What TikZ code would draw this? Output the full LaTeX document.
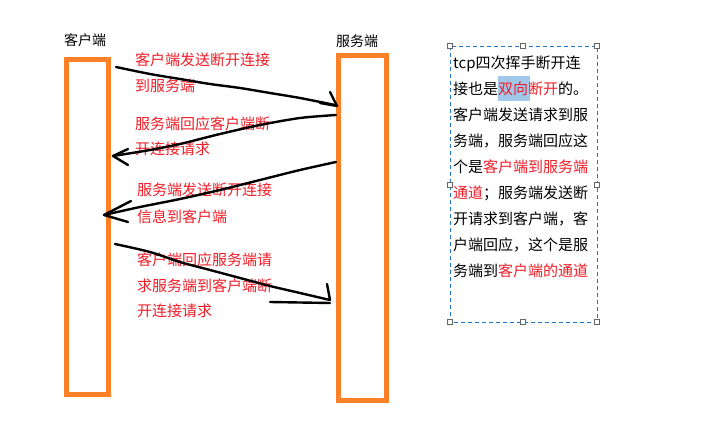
\documentclass[tikz,border=0pt]{standalone}
\usepackage{fontspec}
\setmainfont{Noto Sans CJK SC}
\definecolor{lanec}{RGB}{255,128,38}
\definecolor{redc}{RGB}{240,30,40}
\definecolor{hl}{RGB}{160,200,235}
\definecolor{boxc}{RGB}{30,120,210}
\begin{document}
\begin{tikzpicture}[x=1pt,y=-1pt,
  lane/.style={draw=lanec,line width=5pt},
  lbl/.style={text=redc,font=\fontsize{15}{16}\selectfont,anchor=west,inner sep=0pt},
  hd/.style={font=\fontsize{14}{16}\selectfont,inner sep=0pt},
  ink/.style={line width=2.4pt,line cap=round,line join=round},
  txt/.style={font=\fontsize{15}{16}\selectfont,anchor=west,inner sep=0pt},
  handle/.style={draw=gray!80!black,fill=white,minimum size=5pt,inner sep=0pt,line width=0.6pt}]
\useasboundingbox (0,0) rectangle (719,427);
\fill[white] (0,0) rectangle (719,427);
% lanes
\node[lane,minimum width=42pt,minimum height=335pt,inner sep=0pt] (cli) at (87,227) {};
\node[lane,minimum width=48pt,minimum height=344pt,inner sep=0pt] (srv) at (362,228) {};
\node[hd] (hc) at (85,40) {客户端};
\node[hd] (hs) at (357,41) {服务端};
% labels
\node[lbl] (l1) at (135,60) {客户端发送断开连接};
\node[lbl] (l1b) at (135,86) {到服务端};
\node[lbl] (l2) at (135,124) {服务端回应客户端断};
\node[lbl] (l2b) at (135,149) {开连接请求};
\node[lbl] (l3) at (137,190) {服务端发送断开连接};
\node[lbl] (l3b) at (137,217) {信息到客户端};
\node[lbl] (l4) at (137,260) {客户端回应服务端请};
\node[lbl] (l4b) at (137,286) {求服务端到客户端断};
\node[lbl] (l4c) at (137,311) {开连接请求};
% arrows (hand drawn)
\draw[ink] plot[smooth] coordinates {(116,67) (150,74) (180,79) (210,84) (240,88) (270,93) (300,98) (335,105)};
\draw[ink] (330,92) -- (333,98) -- (337,106) -- (320,103);
\draw[ink] plot[smooth] coordinates {(336,115) (300,118) (260,125) (220,134) (180,144) (150,150) (113,156)};
\draw[ink] (128,149) -- (113,156) -- (128,165);
\draw[ink] plot[smooth] coordinates {(336,162) (300,170) (260,180) (220,190) (180,199) (140,207) (104,215)};
\draw[ink] (131,201) -- (104,215) -- (128,222);
\draw[ink] plot[smooth] coordinates {(115,244) (150,252) (180,262) (210,270) (240,278) (270,286) (300,293) (330,300)};
\draw[ink] (327,284) -- (330,300);
\draw[ink] (270,302) -- (330,303);
% text box
\fill[hl] (498,76) rectangle (530,101);
\draw[boxc,dash pattern=on 4pt off 3pt,line width=0.8pt] (450,46) rectangle (597,322);
\foreach \p [count=\i] in {(450,46),(523,46),(597,46),(450,185),(597,185),(450,322),(523,322),(597,322)}
  \node[handle] (h\i) at \p {};
\def\rd#1{\textcolor{redc}{#1}}
\node[txt] (t1) at (453,64) {tcp四次挥手断开连};
\node[txt] (t2) at (453,89) {接也是\rd{双向断开}的。};
\node[txt] (t3) at (453,115) {客户端发送请求到服};
\node[txt] (t4) at (453,141) {务端，服务端回应这};
\node[txt] (t5) at (453,167) {个是\rd{客户端到服务端}};
\node[txt] (t6) at (453,193) {\rd{通道}；服务端发送断};
\node[txt] (t7) at (453,219) {开请求到客户端，客};
\node[txt] (t8) at (453,245) {户端回应，这个是服};
\node[txt] (t9) at (453,271) {务端到\rd{客户端的通道}};
\end{tikzpicture}
\end{document}
